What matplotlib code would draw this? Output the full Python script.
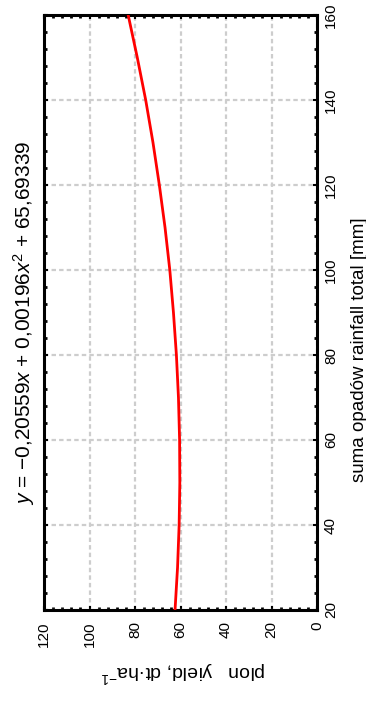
import matplotlib
matplotlib.use("Agg")
import matplotlib.pyplot as plt
from matplotlib.ticker import MultipleLocator

# values (rainfall mm -> yield dt/ha)
rainfall = [20, 30, 40, 50, 60, 70, 80, 90, 100, 110, 120, 130, 140, 150, 160]
yield_dt = [62.4, 61.3, 60.6, 60.3, 60.4, 60.9, 61.8, 63.1, 64.7, 66.8, 69.3, 72.1, 75.3, 79.0, 83.0]

yield_ticks = [0, 20, 40, 60, 80, 100, 120]
rain_ticks = [20, 40, 60, 80, 100, 120, 140, 160]

equation = r"$y$ = −0,20559$x$ + 0,00196$x^2$ + 65,69339"
rain_label = "suma opadów rainfall total [mm]"
yield_label = r"plon   yield, dt·ha$^{-1}$"

plt.rcParams["font.family"] = ["Liberation Sans", "DejaVu Sans"]
plt.rcParams["mathtext.fontset"] = "custom"
plt.rcParams["mathtext.rm"] = "Liberation Sans"
plt.rcParams["mathtext.it"] = "Liberation Sans:italic"

W, H = 366, 706
fig = plt.figure(figsize=(W / 100, H / 100), dpi=100)
ax = fig.add_axes([44 / W, (H - 610) / H, (317 - 44) / W, (610 - 15) / H])

# chart is drawn turned a quarter turn: rainfall runs up, yield runs right-to-left
ax.plot(yield_dt, rainfall, color="#ff0000", linewidth=2.0, zorder=3)

ax.set_xlim(120, 0)
ax.set_ylim(20, 160)
ax.set_xticks(yield_ticks)
ax.set_yticks(rain_ticks)
ax.xaxis.set_minor_locator(MultipleLocator(4))
ax.yaxis.set_minor_locator(MultipleLocator(4))

ax.grid(True, which="major", linestyle=(0, (2, 1.4)), color="#cdcdcd", linewidth=1.6)
for s in ax.spines.values():
    s.set_linewidth(2.2)

ax.tick_params(which="both", direction="in", top=True, bottom=True, left=True, right=True,
               labelleft=False, labelright=True)
ax.tick_params(which="major", length=3, width=1.5, labelsize=11)
ax.tick_params(which="minor", length=2, width=2)
ax.tick_params(axis="x", labelrotation=90, pad=8)
ax.tick_params(axis="y", labelrotation=90, pad=5)
for lbl in ax.get_yticklabels():
    lbl.set_va("center")

# axis titles, placed in pixels like the reference
fig.text(183 / W, 1 - 672 / H, yield_label, rotation=180, fontsize=14,
         ha="center", va="center")
fig.text(359 / W, 1 - 350 / H, rain_label, rotation=90, fontsize=13.5,
         ha="center", va="center")
fig.text(24 / W, 1 - 323 / H, equation, rotation=90, fontsize=15,
         ha="center", va="center")

fig.savefig("out.png", dpi=100)
